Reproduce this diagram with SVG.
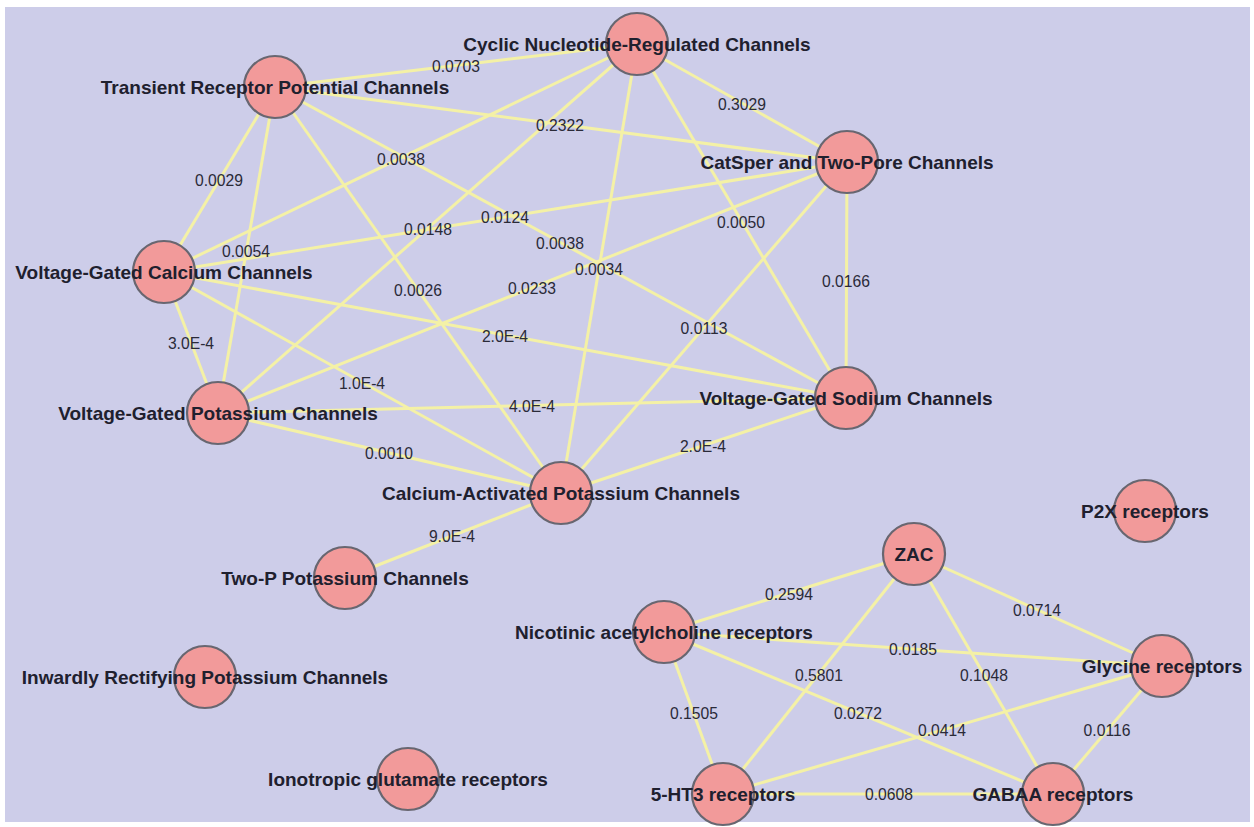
<svg xmlns="http://www.w3.org/2000/svg" width="1254" height="827" viewBox="0 0 1254 827">
<style>
.bg{fill:#cdcde9}
.edge{stroke:#f4f1a6;stroke-width:3;fill:none}
.node circle{fill:#f29a9a;stroke:#686670;stroke-width:2.2}
.nl{font-family:"Liberation Sans",Arial,sans-serif;font-weight:bold;font-size:19px;fill:#20202e;text-anchor:middle}
.el{font-family:"Liberation Sans",Arial,sans-serif;font-size:15.7px;fill:#2a2a38;text-anchor:middle}
</style>
<rect x="0" y="0" width="1254" height="827" fill="#ffffff"/>
<rect class="bg" x="5" y="7" width="1245" height="815"/>
<g id="connectors">
<line class="edge" x1="275" y1="87" x2="637" y2="44"/>
<line class="edge" x1="275" y1="87" x2="847" y2="162"/>
<line class="edge" x1="275" y1="87" x2="164" y2="272"/>
<line class="edge" x1="275" y1="87" x2="218" y2="413"/>
<line class="edge" x1="275" y1="87" x2="561" y2="493"/>
<line class="edge" x1="275" y1="87" x2="846" y2="398"/>
<line class="edge" x1="637" y1="44" x2="847" y2="162"/>
<line class="edge" x1="637" y1="44" x2="218" y2="413"/>
<line class="edge" x1="637" y1="44" x2="561" y2="493"/>
<line class="edge" x1="637" y1="44" x2="846" y2="398"/>
<line class="edge" x1="637" y1="44" x2="164" y2="272"/>
<line class="edge" x1="847" y1="162" x2="164" y2="272"/>
<line class="edge" x1="847" y1="162" x2="218" y2="413"/>
<line class="edge" x1="847" y1="162" x2="561" y2="493"/>
<line class="edge" x1="847" y1="162" x2="846" y2="398"/>
<line class="edge" x1="164" y1="272" x2="218" y2="413"/>
<line class="edge" x1="164" y1="272" x2="561" y2="493"/>
<line class="edge" x1="164" y1="272" x2="846" y2="398"/>
<line class="edge" x1="218" y1="413" x2="846" y2="398"/>
<line class="edge" x1="218" y1="413" x2="561" y2="493"/>
<line class="edge" x1="561" y1="493" x2="846" y2="398"/>
<line class="edge" x1="561" y1="493" x2="345" y2="578"/>
<line class="edge" x1="664" y1="632" x2="914" y2="554"/>
<line class="edge" x1="664" y1="632" x2="1162" y2="666"/>
<line class="edge" x1="664" y1="632" x2="723" y2="794"/>
<line class="edge" x1="664" y1="632" x2="1053" y2="794"/>
<line class="edge" x1="914" y1="554" x2="723" y2="794"/>
<line class="edge" x1="914" y1="554" x2="1162" y2="666"/>
<line class="edge" x1="914" y1="554" x2="1053" y2="794"/>
<line class="edge" x1="723" y1="794" x2="1162" y2="666"/>
<line class="edge" x1="723" y1="794" x2="1053" y2="794"/>
<line class="edge" x1="1162" y1="666" x2="1053" y2="794"/>
<text class="el" x="456" y="72">0.0703</text>
<text class="el" x="560" y="131">0.2322</text>
<text class="el" x="219" y="186">0.0029</text>
<text class="el" x="246" y="257">0.0054</text>
<text class="el" x="418" y="296">0.0026</text>
<text class="el" x="742" y="110">0.3029</text>
<text class="el" x="428" y="235">0.0148</text>
<text class="el" x="599" y="275">0.0034</text>
<text class="el" x="741" y="228">0.0050</text>
<text class="el" x="505" y="223">0.0124</text>
<text class="el" x="532" y="294">0.0233</text>
<text class="el" x="704" y="334">0.0113</text>
<text class="el" x="846" y="287">0.0166</text>
<text class="el" x="191" y="349">3.0E-4</text>
<text class="el" x="362" y="389">1.0E-4</text>
<text class="el" x="505" y="342">2.0E-4</text>
<text class="el" x="532" y="412">4.0E-4</text>
<text class="el" x="389" y="459">0.0010</text>
<text class="el" x="703" y="452">2.0E-4</text>
<text class="el" x="452" y="542">9.0E-4</text>
<text class="el" x="401" y="165">0.0038</text>
<text class="el" x="560" y="249">0.0038</text>
<text class="el" x="789" y="600">0.2594</text>
<text class="el" x="913" y="655">0.0185</text>
<text class="el" x="694" y="719">0.1505</text>
<text class="el" x="858" y="719">0.0272</text>
<text class="el" x="819" y="681">0.5801</text>
<text class="el" x="1037" y="616">0.0714</text>
<text class="el" x="984" y="681">0.1048</text>
<text class="el" x="942" y="736">0.0414</text>
<text class="el" x="889" y="800">0.0608</text>
<text class="el" x="1107" y="736">0.0116</text>
</g>
<g id="trp" class="node"><circle cx="275" cy="87" r="31"/><text class="nl" x="275" y="94">Transient Receptor Potential Channels</text></g>
<g id="cng" class="node"><circle cx="637" cy="44" r="31"/><text class="nl" x="637" y="51">Cyclic Nucleotide-Regulated Channels</text></g>
<g id="catsper" class="node"><circle cx="847" cy="162" r="31"/><text class="nl" x="847" y="169">CatSper and Two-Pore Channels</text></g>
<g id="vgcc" class="node"><circle cx="164" cy="272" r="31"/><text class="nl" x="164" y="279">Voltage-Gated Calcium Channels</text></g>
<g id="vgkc" class="node"><circle cx="218" cy="413" r="31"/><text class="nl" x="218" y="420">Voltage-Gated Potassium Channels</text></g>
<g id="cakc" class="node"><circle cx="561" cy="493" r="31"/><text class="nl" x="561" y="500">Calcium-Activated Potassium Channels</text></g>
<g id="vgsc" class="node"><circle cx="846" cy="398" r="31"/><text class="nl" x="846" y="405">Voltage-Gated Sodium Channels</text></g>
<g id="twop" class="node"><circle cx="345" cy="578" r="31"/><text class="nl" x="345" y="585">Two-P Potassium Channels</text></g>
<g id="kir" class="node"><circle cx="205" cy="677" r="31"/><text class="nl" x="205" y="684">Inwardly Rectifying Potassium Channels</text></g>
<g id="iglu" class="node"><circle cx="408" cy="779" r="31"/><text class="nl" x="408" y="786">Ionotropic glutamate receptors</text></g>
<g id="p2x" class="node"><circle cx="1145" cy="511" r="31"/><text class="nl" x="1145" y="518">P2X receptors</text></g>
<g id="nach" class="node"><circle cx="664" cy="632" r="31"/><text class="nl" x="664" y="639">Nicotinic acetylcholine receptors</text></g>
<g id="ht3" class="node"><circle cx="723" cy="794" r="31"/><text class="nl" x="723" y="801">5-HT3 receptors</text></g>
<g id="zac" class="node"><circle cx="914" cy="554" r="31"/><text class="nl" x="914" y="561">ZAC</text></g>
<g id="gly" class="node"><circle cx="1162" cy="666" r="31"/><text class="nl" x="1162" y="673">Glycine receptors</text></g>
<g id="gabaa" class="node"><circle cx="1053" cy="794" r="31"/><text class="nl" x="1053" y="801">GABAA receptors</text></g>
</svg>
